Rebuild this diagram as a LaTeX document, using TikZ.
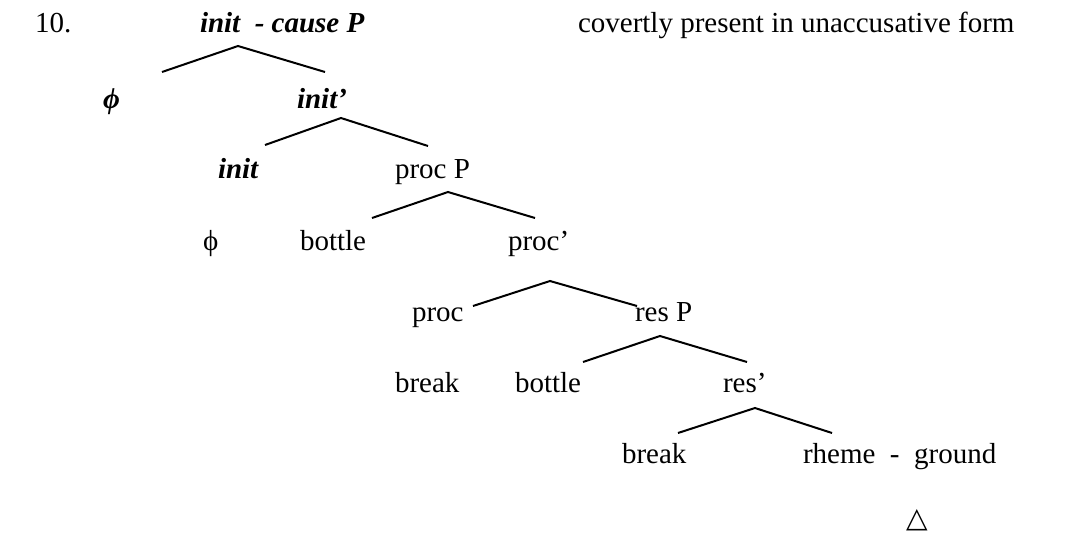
\documentclass[tikz,border=0pt]{standalone}
\usepackage{fontspec}
\setmainfont{Liberation Serif}
\newfontfamily\symfont{DejaVu Sans}
\begin{document}
\begin{tikzpicture}[x=1pt,y=-1pt,
  lbl/.style={anchor=base west,inner sep=0pt,outer sep=0pt,font=\fontsize{29}{33}\selectfont},
  bi/.style={lbl,font=\fontsize{29}{33}\selectfont\bfseries\itshape},
  branch/.style={line width=2pt,line join=miter}]
\useasboundingbox (0,0) rectangle (1077,533);

% example number and comment
\node[lbl] (num) at (35,32) {10.};
\node[lbl] (note) at (578,32) {covertly present in unaccusative form};

% init - cause P
\node[bi] (initCP) at (200,32) {init\ \ -\ cause P};
\coordinate (a0) at (238,46);
\coordinate (a0l) at (162,72);
\coordinate (a0r) at (325,72);
\draw[branch] (a0l) -- (a0) -- (a0r);

\node[bi] (phiB) at (103,108) {ϕ};
\node[bi] (initbar) at (297,108) {init’};
\coordinate (a1) at (341,118);
\coordinate (a1l) at (265,145);
\coordinate (a1r) at (428,146);
\draw[branch] (a1l) -- (a1) -- (a1r);

\node[bi] (initH) at (218,178) {init};
\node[lbl] (procP) at (395,178) {proc P};
\coordinate (a2) at (448,192);
\coordinate (a2l) at (372,218);
\coordinate (a2r) at (535,218);
\draw[branch] (a2l) -- (a2) -- (a2r);

\node[lbl] (phi) at (203,250) {ϕ};
\node[lbl] (bottle1) at (300,250) {bottle};
\node[lbl] (procbar) at (508,250) {proc’};
\coordinate (a3) at (550,281);
\coordinate (a3l) at (473,306);
\coordinate (a3r) at (637,306);
\draw[branch] (a3l) -- (a3) -- (a3r);

\node[lbl] (procH) at (412,321) {proc};
\node[lbl] (resP) at (635,321) {res P};
\coordinate (a4) at (660,336);
\coordinate (a4l) at (583,362);
\coordinate (a4r) at (747,362);
\draw[branch] (a4l) -- (a4) -- (a4r);

\node[lbl] (break1) at (395,392) {break};
\node[lbl] (bottle2) at (515,392) {bottle};
\node[lbl] (resbar) at (723,392) {res’};
\coordinate (a5) at (755,408);
\coordinate (a5l) at (678,433);
\coordinate (a5r) at (832,433);
\draw[branch] (a5l) -- (a5) -- (a5r);

\node[lbl] (break2) at (622,463) {break};
\node[lbl] (rheme) at (803,463) {rheme\ \ -\ \ ground};

\node[lbl,font=\fontsize{28}{30}\symfont\bfseries] (tri) at (906,527) {△};
\end{tikzpicture}
\end{document}
